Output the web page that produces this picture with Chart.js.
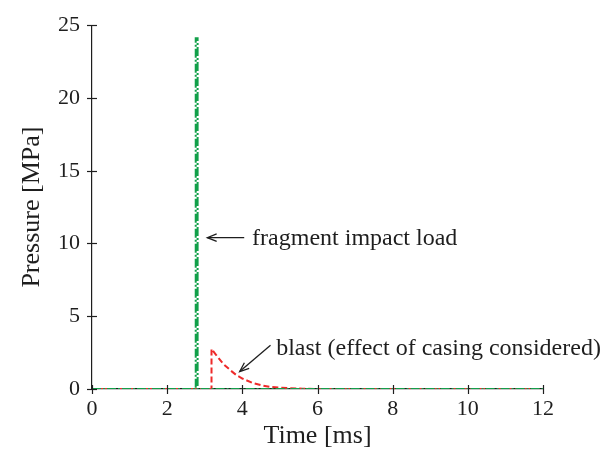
<!DOCTYPE html>
<html><head><meta charset="utf-8">
<script src="https://cdn.jsdelivr.net/npm/chart.js@4.4.1/dist/chart.umd.min.js"></script>
<style>html,body{margin:0;padding:0;background:#fff}#wrap{width:600px;height:455px}</style>
</head><body><div id="wrap"><canvas id="c" width="600" height="455"></canvas></div>
<script>
// ---- data ----
const fragmentTime     = [0, 2.76, 2.76, 2.81, 2.81, 12];
const fragmentPressure = [0, 0, 24.1, 24.1, 0, 0];

const blastTime     = [0, 3.18, 3.18, 3.3, 3.49, 3.7, 3.85, 4.0, 4.29, 4.5, 4.73, 5.0, 5.6, 6.0, 12];
const blastPressure = [0, 0, 2.75, 2.35, 1.73, 1.25, 0.94, 0.72, 0.40, 0.26, 0.15, 0.09, 0.02, 0.0, 0];

const xTicks = [0, 2, 4, 6, 8, 10, 12];
const yTicks = [0, 5, 10, 15, 20, 25];

const labelTexts = ["fragment impact load", "blast (effect of casing considered)"];

// annotation anchors in data units (time, pressure)
const labelAt  = [[4.26, 10.4], [4.9, 2.85]];
const arrowTip = [[3.07, 10.4], [3.93, 1.2]];
const arrowTail= [[4.05, 10.4], [4.75, 3.0]];

const FONT = "'Liberation Serif', 'Times New Roman', serif";
const INK = '#1e1e1e';

const pairs = (xs, ys) => xs.map((x, i) => ({x, y: ys[i]}));

const crossTicks = {
  id: 'crossTicks',
  afterDraw(chart) {
    const {ctx, scales: {x, y}} = chart;
    ctx.save();
    ctx.strokeStyle = INK; ctx.lineWidth = 1.2;
    const y0 = y.getPixelForValue(0), x0 = x.getPixelForValue(0);
    xTicks.forEach(v => { const px = Math.round(x.getPixelForValue(v)) + 0.5;
      ctx.beginPath(); ctx.moveTo(px, y0 - 4); ctx.lineTo(px, y0 + 5); ctx.stroke(); });
    yTicks.forEach(v => { const py = Math.round(y.getPixelForValue(v)) + 0.5;
      ctx.beginPath(); ctx.moveTo(x0 - 5, py); ctx.lineTo(x0 + 5, py); ctx.stroke(); });
    // annotations
    ctx.fillStyle = INK; ctx.font = "24px " + FONT;
    ctx.textAlign = 'left'; ctx.textBaseline = 'middle';
    labelTexts.forEach((t, i) => {
      ctx.fillText(t, x.getPixelForValue(labelAt[i][0]), y.getPixelForValue(labelAt[i][1]) + 1);
      const tx = x.getPixelForValue(arrowTip[i][0]), ty = y.getPixelForValue(arrowTip[i][1]);
      const sx = x.getPixelForValue(arrowTail[i][0]), sy = y.getPixelForValue(arrowTail[i][1]);
      ctx.lineWidth = 1.3;
      ctx.beginPath(); ctx.moveTo(sx, sy); ctx.lineTo(tx, ty); ctx.stroke();
      const ang = Math.atan2(sy - ty, sx - tx), L = 10, a = 0.38;
      ctx.beginPath();
      ctx.moveTo(tx + L * Math.cos(ang + a), ty + L * Math.sin(ang + a));
      ctx.lineTo(tx, ty);
      ctx.lineTo(tx + L * Math.cos(ang - a), ty + L * Math.sin(ang - a));
      ctx.stroke();
    });
    ctx.restore();
  }
};

new Chart(document.getElementById('c'), {
  type: 'line',
  data: {
    datasets: [
      { label: 'fragment impact load', data: pairs(fragmentTime, fragmentPressure),
        borderColor: '#12a04a', borderWidth: 2, borderDash: [9, 2, 2, 2],
        pointRadius: 0, fill: false, tension: 0 },
      { label: 'blast', data: pairs(blastTime, blastPressure),
        borderColor: '#ee2a2a', borderWidth: 2, borderDash: [6, 3],
        pointRadius: 0, fill: false, tension: 0 }
    ]
  },
  options: {
    responsive: false, animation: false, devicePixelRatio: 1,
    layout: { padding: { left: 0, right: 57, top: 18, bottom: 0 } },
    plugins: { legend: { display: false }, tooltip: { enabled: false } },
    scales: {
      x: {
        type: 'linear', min: 0, max: 12,
        afterBuildTicks: s => { s.ticks = xTicks.map(v => ({value: v})); },
        afterFit: s => { s.height = 66; },
        grid: { display: false, drawTicks: false },
        border: { display: true, color: INK, width: 1.2 },
        ticks: { font: { family: FONT, size: 22 }, color: INK, padding: 7, maxRotation: 0 },
        title: { display: true, text: 'Time [ms]', color: INK,
                 font: { family: FONT, size: 26 }, padding: { top: 0, bottom: 3 } }
      },
      y: {
        type: 'linear', min: 0, max: 25,
        afterBuildTicks: s => { s.ticks = yTicks.map(v => ({value: v})); },
        afterFit: s => { s.width = 92; },
        grid: { display: false, drawTicks: false },
        border: { display: true, color: INK, width: 1.2 },
        ticks: { font: { family: FONT, size: 22 }, color: INK, padding: 12 },
        title: { display: true, text: 'Pressure [MPa]', color: INK,
                 font: { family: FONT, size: 26 }, padding: { top: 17, bottom: 0 } }
      }
    }
  },
  plugins: [crossTicks]
});
</script></body></html>
